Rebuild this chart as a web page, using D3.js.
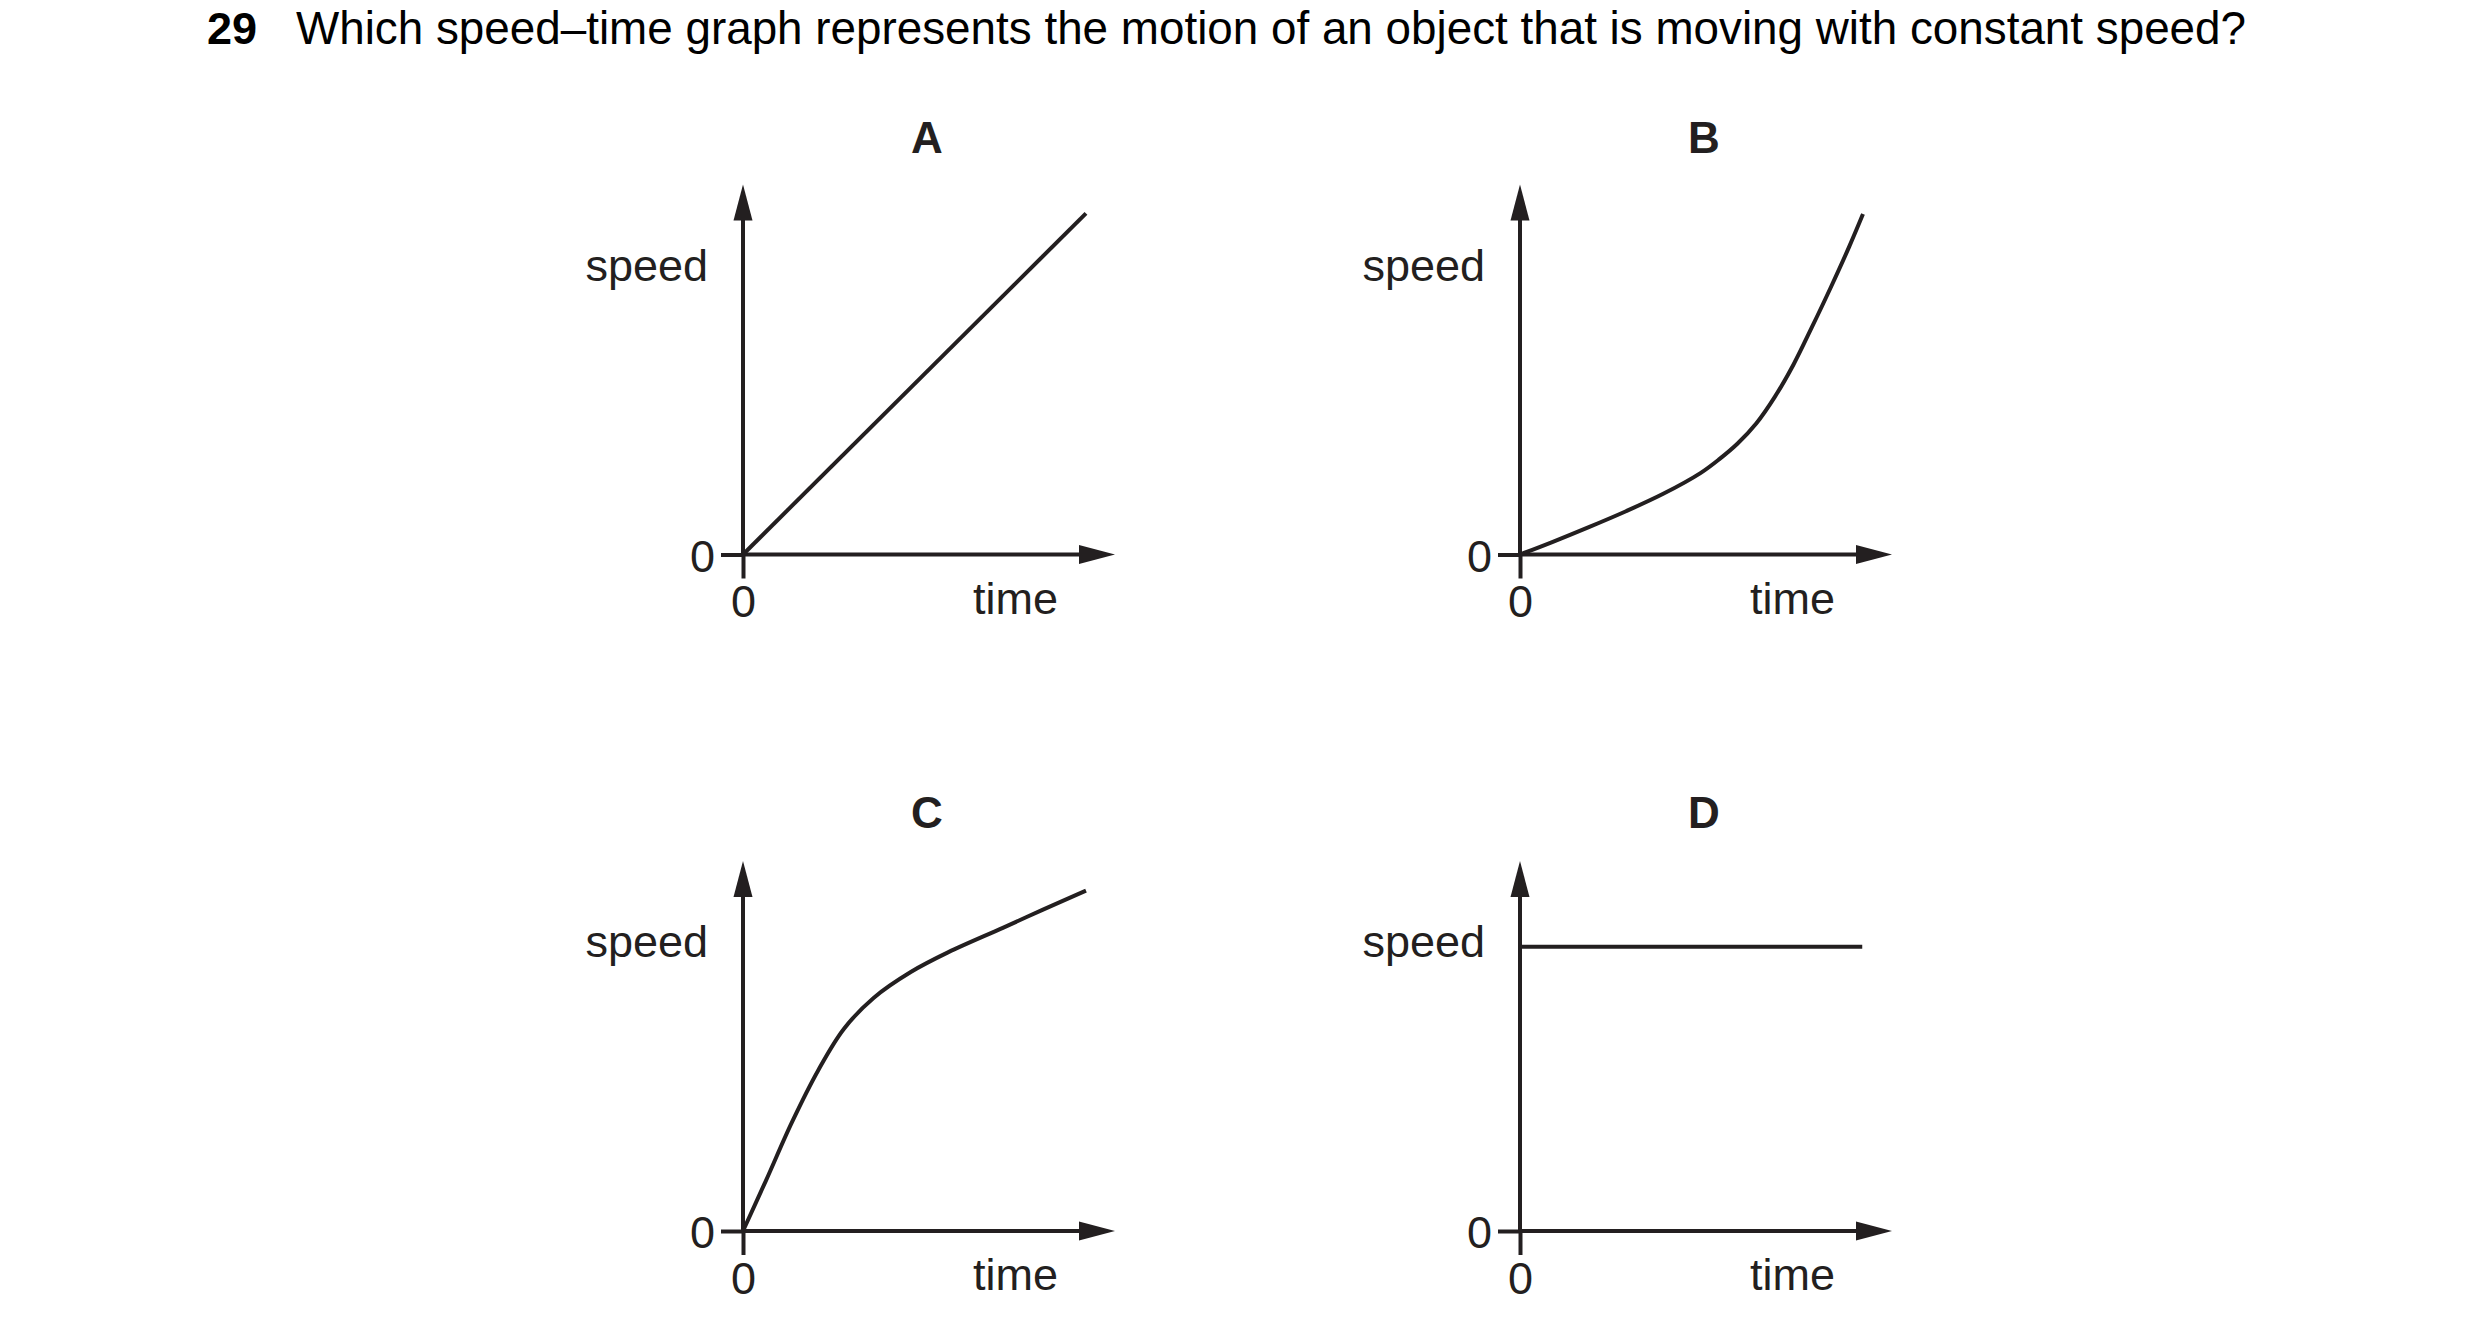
<!DOCTYPE html>
<html>
<head>
<meta charset="utf-8">
<script src="https://cdn.jsdelivr.net/npm/d3@7"></script>
<style>
  html, body { margin: 0; padding: 0; background: #ffffff; }
  svg { display: block; }
  text { font-family: "Liberation Sans", Arial, Helvetica, sans-serif; fill: #231f20; }
</style>
</head>
<body>
<svg id="chart" width="2480" height="1334"></svg>
<script>
// ---- data ----
const questionNumber = "29";
const questionText = "Which speed\u2013time graph represents the motion of an object that is moving with constant speed?";
const panelLabels = ["A", "B", "C", "D"];
const yAxisTitle = "speed";
const xAxisTitle = "time";
const tickLabels = ["0"];

// curves: [time, speed] in axis units (axes run 0..10)
const seriesA = [[0, 0], [9.22, 9.22]];
const seriesB = [[0, 0], [0.85, 0.33], [1.85, 0.74], [2.85, 1.17], [3.85, 1.64], [4.85, 2.2],
                 [5.35, 2.57], [5.85, 3.0], [6.35, 3.54], [6.85, 4.26], [7.35, 5.13],
                 [7.85, 6.15], [8.35, 7.21], [8.85, 8.32], [9.22, 9.2]];
const seriesC = [[0, 0], [0.62, 1.37], [1.32, 2.95], [2.02, 4.34], [2.71, 5.46], [3.51, 6.3],
                 [4.51, 7.0], [5.51, 7.53], [7.0, 8.2], [8.05, 8.68], [9.22, 9.2]];
const seriesD = [[0, 7.68], [9.2, 7.68]];

const panelSeries = [seriesA, seriesB, seriesC, seriesD];
const panelCurves = ["linear", "smooth", "smooth", "linear"];

// ---- layout ----
const ink = "#231f20";
const svg = d3.select("#chart");
const origins = [[743, 554.5], [1520, 554.5], [743, 1231], [1520, 1231]];
const xLen = 372, yLen = 370;
const headLen = 36, headHalf = 9.5;

// title
const title = svg.append("text").attr("y", 44).style("fill", "#000");
title.append("tspan").attr("x", 207).style("font-weight", "bold").style("font-size", "45px").text(questionNumber);
title.append("tspan").attr("x", 296).style("font-size", "45.8px").text(questionText);

const x = d3.scaleLinear().domain([0, 10]).range([0, xLen]);
const y = d3.scaleLinear().domain([0, 10]).range([0, -yLen]);

panelLabels.forEach((lab, i) => {
  const g = svg.append("g").attr("transform", `translate(${origins[i][0]},${origins[i][1]})`);

  // panel letter
  g.append("text")
    .attr("x", 184).attr("y", i < 2 ? -401.5 : -403)
    .attr("text-anchor", "middle")
    .style("font-size", "44px").style("font-weight", "bold")
    .text(lab);

  // axes (ticks + tick labels via d3 axes)
  const xAxis = d3.axisBottom(x).tickValues([0]).tickFormat((d, k) => tickLabels[k])
    .tickSize(24).tickPadding(7).tickSizeOuter(0);
  const yAxis = d3.axisLeft(y).tickValues([0]).tickFormat((d, k) => tickLabels[k])
    .tickSize(22).tickPadding(6).tickSizeOuter(0);

  const gx = g.append("g").call(xAxis);
  const gy = g.append("g").call(yAxis);
  [gx, gy].forEach(a => {
    a.select(".domain").remove();
    a.selectAll("line").attr("stroke", ink).attr("stroke-width", 4);
    a.selectAll("text").style("font-size", "45px").attr("fill", ink)
      .style("font-family", '"Liberation Sans", Arial, sans-serif');
  });
  gy.selectAll("text").attr("dy", "0.37em");

  // axis lines
  g.append("line").attr("x1", x(0)).attr("y1", 0).attr("x2", x(10) - headLen + 1).attr("y2", 0)
    .attr("stroke", ink).attr("stroke-width", 4);
  g.append("line").attr("x1", 0).attr("y1", y(0)).attr("x2", 0).attr("y2", y(10) + headLen - 1)
    .attr("stroke", ink).attr("stroke-width", 4);

  // arrow heads
  g.append("path")
    .attr("d", `M${x(10)},0 L${x(10) - headLen},${-headHalf} L${x(10) - headLen},${headHalf} Z`)
    .attr("fill", ink);
  g.append("path")
    .attr("d", `M0,${y(10)} L${-headHalf},${y(10) + headLen} L${headHalf},${y(10) + headLen} Z`)
    .attr("fill", ink);

  // axis titles
  g.append("text").attr("x", -35).attr("y", -274).attr("text-anchor", "end")
    .style("font-size", "45px").text(yAxisTitle);
  g.append("text").attr("x", 230).attr("y", 59)
    .style("font-size", "45px").text(xAxisTitle);

  // data curve
  const line = d3.line()
    .x(d => x(d[0])).y(d => y(d[1]))
    .curve(panelCurves[i] === "smooth" ? d3.curveCatmullRom.alpha(0.5) : d3.curveLinear);
  g.append("path").datum(panelSeries[i])
    .attr("d", line)
    .attr("fill", "none").attr("stroke", ink).attr("stroke-width", 4)
    .attr("stroke-linejoin", "round");
});
</script>
</body>
</html>
